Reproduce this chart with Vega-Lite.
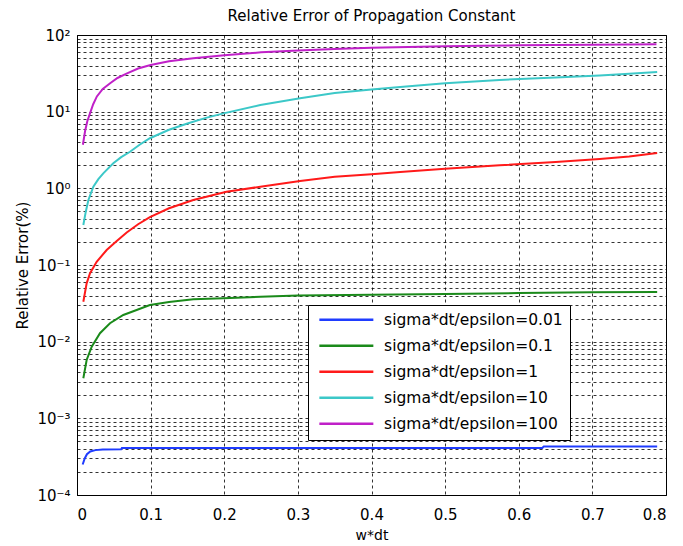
{
  "$schema": "https://vega.github.io/schema/vega-lite/v6.json",
  "autosize": "none",
  "width": 589,
  "height": 460,
  "padding": {"left": 77, "top": 35, "right": 17, "bottom": 51},
  "background": "white",
  "title": {"text": "Relative Error of Propagation Constant", "font": "DejaVu Sans", "fontSize": 15, "fontWeight": "normal", "color": "black", "offset": 4},
  "config": {
    "view": {"stroke": "black", "strokeWidth": 1},
    "font": "DejaVu Sans",
    "axis": {"domainColor": "black", "labelColor": "black", "titleColor": "black", "labelFont": "DejaVu Sans", "titleFont": "DejaVu Sans", "titleFontWeight": "normal", "gridColor": "black", "gridDash": [3, 3], "gridOpacity": 0.8, "gridWidth": 1, "ticks": false}
  },
  "data": {"values": [
    {"w": 0.008, "err": 3.7, "s": "sigma*dt/epsilon=100"},
    {"w": 0.011, "err": 5.6, "s": "sigma*dt/epsilon=100"},
    {"w": 0.014, "err": 7.5, "s": "sigma*dt/epsilon=100"},
    {"w": 0.018, "err": 9.7, "s": "sigma*dt/epsilon=100"},
    {"w": 0.022, "err": 12.5, "s": "sigma*dt/epsilon=100"},
    {"w": 0.027, "err": 15.8, "s": "sigma*dt/epsilon=100"},
    {"w": 0.035, "err": 19.8, "s": "sigma*dt/epsilon=100"},
    {"w": 0.045, "err": 23.5, "s": "sigma*dt/epsilon=100"},
    {"w": 0.055, "err": 27.5, "s": "sigma*dt/epsilon=100"},
    {"w": 0.068, "err": 31.6, "s": "sigma*dt/epsilon=100"},
    {"w": 0.083, "err": 36.5, "s": "sigma*dt/epsilon=100"},
    {"w": 0.1, "err": 40.6, "s": "sigma*dt/epsilon=100"},
    {"w": 0.125, "err": 45.5, "s": "sigma*dt/epsilon=100"},
    {"w": 0.158, "err": 49.7, "s": "sigma*dt/epsilon=100"},
    {"w": 0.2, "err": 54.5, "s": "sigma*dt/epsilon=100"},
    {"w": 0.25, "err": 59.4, "s": "sigma*dt/epsilon=100"},
    {"w": 0.3, "err": 63, "s": "sigma*dt/epsilon=100"},
    {"w": 0.35, "err": 65.8, "s": "sigma*dt/epsilon=100"},
    {"w": 0.4, "err": 68, "s": "sigma*dt/epsilon=100"},
    {"w": 0.45, "err": 69.8, "s": "sigma*dt/epsilon=100"},
    {"w": 0.5, "err": 71.2, "s": "sigma*dt/epsilon=100"},
    {"w": 0.55, "err": 72.4, "s": "sigma*dt/epsilon=100"},
    {"w": 0.6, "err": 73.3, "s": "sigma*dt/epsilon=100"},
    {"w": 0.65, "err": 74.2, "s": "sigma*dt/epsilon=100"},
    {"w": 0.7, "err": 74.8, "s": "sigma*dt/epsilon=100"},
    {"w": 0.75, "err": 75.3, "s": "sigma*dt/epsilon=100"},
    {"w": 0.787, "err": 75.6, "s": "sigma*dt/epsilon=100"},

    {"w": 0.0086, "err": 0.333, "s": "sigma*dt/epsilon=10"},
    {"w": 0.012, "err": 0.5, "s": "sigma*dt/epsilon=10"},
    {"w": 0.0154, "err": 0.7, "s": "sigma*dt/epsilon=10"},
    {"w": 0.0222, "err": 1.05, "s": "sigma*dt/epsilon=10"},
    {"w": 0.029, "err": 1.32, "s": "sigma*dt/epsilon=10"},
    {"w": 0.0357, "err": 1.57, "s": "sigma*dt/epsilon=10"},
    {"w": 0.0493, "err": 2.12, "s": "sigma*dt/epsilon=10"},
    {"w": 0.06, "err": 2.55, "s": "sigma*dt/epsilon=10"},
    {"w": 0.072, "err": 3.0, "s": "sigma*dt/epsilon=10"},
    {"w": 0.085, "err": 3.7, "s": "sigma*dt/epsilon=10"},
    {"w": 0.099, "err": 4.5, "s": "sigma*dt/epsilon=10"},
    {"w": 0.125, "err": 5.8, "s": "sigma*dt/epsilon=10"},
    {"w": 0.15, "err": 7.0, "s": "sigma*dt/epsilon=10"},
    {"w": 0.175, "err": 8.3, "s": "sigma*dt/epsilon=10"},
    {"w": 0.199, "err": 9.5, "s": "sigma*dt/epsilon=10"},
    {"w": 0.249, "err": 12.2, "s": "sigma*dt/epsilon=10"},
    {"w": 0.303, "err": 15, "s": "sigma*dt/epsilon=10"},
    {"w": 0.35, "err": 17.5, "s": "sigma*dt/epsilon=10"},
    {"w": 0.4, "err": 19.5, "s": "sigma*dt/epsilon=10"},
    {"w": 0.439, "err": 21, "s": "sigma*dt/epsilon=10"},
    {"w": 0.5, "err": 23.5, "s": "sigma*dt/epsilon=10"},
    {"w": 0.574, "err": 25.9, "s": "sigma*dt/epsilon=10"},
    {"w": 0.65, "err": 28, "s": "sigma*dt/epsilon=10"},
    {"w": 0.71, "err": 29.6, "s": "sigma*dt/epsilon=10"},
    {"w": 0.75, "err": 31.2, "s": "sigma*dt/epsilon=10"},
    {"w": 0.788, "err": 32.9, "s": "sigma*dt/epsilon=10"},

    {"w": 0.0086, "err": 0.0332, "s": "sigma*dt/epsilon=1"},
    {"w": 0.0131, "err": 0.0577, "s": "sigma*dt/epsilon=1"},
    {"w": 0.0177, "err": 0.078, "s": "sigma*dt/epsilon=1"},
    {"w": 0.0267, "err": 0.11, "s": "sigma*dt/epsilon=1"},
    {"w": 0.0403, "err": 0.157, "s": "sigma*dt/epsilon=1"},
    {"w": 0.054, "err": 0.205, "s": "sigma*dt/epsilon=1"},
    {"w": 0.0675, "err": 0.265, "s": "sigma*dt/epsilon=1"},
    {"w": 0.083, "err": 0.34, "s": "sigma*dt/epsilon=1"},
    {"w": 0.099, "err": 0.42, "s": "sigma*dt/epsilon=1"},
    {"w": 0.125, "err": 0.55, "s": "sigma*dt/epsilon=1"},
    {"w": 0.158, "err": 0.705, "s": "sigma*dt/epsilon=1"},
    {"w": 0.203, "err": 0.9, "s": "sigma*dt/epsilon=1"},
    {"w": 0.249, "err": 1.05, "s": "sigma*dt/epsilon=1"},
    {"w": 0.303, "err": 1.25, "s": "sigma*dt/epsilon=1"},
    {"w": 0.35, "err": 1.42, "s": "sigma*dt/epsilon=1"},
    {"w": 0.4, "err": 1.53, "s": "sigma*dt/epsilon=1"},
    {"w": 0.439, "err": 1.63, "s": "sigma*dt/epsilon=1"},
    {"w": 0.5, "err": 1.8, "s": "sigma*dt/epsilon=1"},
    {"w": 0.574, "err": 2.0, "s": "sigma*dt/epsilon=1"},
    {"w": 0.65, "err": 2.2, "s": "sigma*dt/epsilon=1"},
    {"w": 0.71, "err": 2.41, "s": "sigma*dt/epsilon=1"},
    {"w": 0.75, "err": 2.6, "s": "sigma*dt/epsilon=1"},
    {"w": 0.788, "err": 2.89, "s": "sigma*dt/epsilon=1"},

    {"w": 0.0086, "err": 0.00333, "s": "sigma*dt/epsilon=0.1"},
    {"w": 0.0131, "err": 0.00577, "s": "sigma*dt/epsilon=0.1"},
    {"w": 0.02, "err": 0.0086, "s": "sigma*dt/epsilon=0.1"},
    {"w": 0.0312, "err": 0.0129, "s": "sigma*dt/epsilon=0.1"},
    {"w": 0.0448, "err": 0.0174, "s": "sigma*dt/epsilon=0.1"},
    {"w": 0.0629, "err": 0.0223, "s": "sigma*dt/epsilon=0.1"},
    {"w": 0.081, "err": 0.0259, "s": "sigma*dt/epsilon=0.1"},
    {"w": 0.099, "err": 0.03, "s": "sigma*dt/epsilon=0.1"},
    {"w": 0.125, "err": 0.033, "s": "sigma*dt/epsilon=0.1"},
    {"w": 0.158, "err": 0.0357, "s": "sigma*dt/epsilon=0.1"},
    {"w": 0.199, "err": 0.0368, "s": "sigma*dt/epsilon=0.1"},
    {"w": 0.249, "err": 0.0386, "s": "sigma*dt/epsilon=0.1"},
    {"w": 0.3, "err": 0.04, "s": "sigma*dt/epsilon=0.1"},
    {"w": 0.4, "err": 0.041, "s": "sigma*dt/epsilon=0.1"},
    {"w": 0.5, "err": 0.042, "s": "sigma*dt/epsilon=0.1"},
    {"w": 0.6, "err": 0.043, "s": "sigma*dt/epsilon=0.1"},
    {"w": 0.7, "err": 0.044, "s": "sigma*dt/epsilon=0.1"},
    {"w": 0.788, "err": 0.0445, "s": "sigma*dt/epsilon=0.1"},

    {"w": 0.0077, "err": 0.00025, "s": "sigma*dt/epsilon=0.01"},
    {"w": 0.0105, "err": 0.0003, "s": "sigma*dt/epsilon=0.01"},
    {"w": 0.0135, "err": 0.00034, "s": "sigma*dt/epsilon=0.01"},
    {"w": 0.018, "err": 0.00037, "s": "sigma*dt/epsilon=0.01"},
    {"w": 0.025, "err": 0.000385, "s": "sigma*dt/epsilon=0.01"},
    {"w": 0.035, "err": 0.000392, "s": "sigma*dt/epsilon=0.01"},
    {"w": 0.06, "err": 0.000395, "s": "sigma*dt/epsilon=0.01"},
    {"w": 0.061, "err": 0.00041, "s": "sigma*dt/epsilon=0.01"},
    {"w": 0.632, "err": 0.00041, "s": "sigma*dt/epsilon=0.01"},
    {"w": 0.634, "err": 0.00043, "s": "sigma*dt/epsilon=0.01"},
    {"w": 0.788, "err": 0.00043, "s": "sigma*dt/epsilon=0.01"}
  ]},
  "mark": {"type": "line", "strokeWidth": 2, "clip": true},
  "encoding": {
    "x": {"field": "w", "type": "quantitative",
      "scale": {"domain": [0, 0.8], "nice": false, "zero": false},
      "axis": {"title": "w*dt", "values": [0, 0.1, 0.2, 0.3, 0.4, 0.5, 0.6, 0.7, 0.8],
        "labelExpr": "datum.value == 0 ? '0' : format(datum.value, '.1f')",
        "labelFontSize": 15, "labelPadding": 12, "titleFontSize": 14, "titlePadding": 6, "grid": true}},
    "y": {"field": "err", "type": "quantitative",
      "scale": {"type": "log", "domain": [0.0001, 100], "nice": false},
      "axis": {"title": "Relative Error(%)",
        "values": [0.0001, 0.0002, 0.0003, 0.0004, 0.0005, 0.0006, 0.0007, 0.0008, 0.0009,
                   0.001, 0.002, 0.003, 0.004, 0.005, 0.006, 0.007, 0.008, 0.009,
                   0.01, 0.02, 0.03, 0.04, 0.05, 0.06, 0.07, 0.08, 0.09,
                   0.1, 0.2, 0.3, 0.4, 0.5, 0.6, 0.7, 0.8, 0.9,
                   1, 2, 3, 4, 5, 6, 7, 8, 9,
                   10, 20, 30, 40, 50, 60, 70, 80, 90, 100],
        "labelExpr": "datum.value == 0.0001 ? '10⁻⁴' : datum.value == 0.001 ? '10⁻³' : datum.value == 0.01 ? '10⁻²' : datum.value == 0.1 ? '10⁻¹' : datum.value == 1 ? '10⁰' : datum.value == 10 ? '10¹' : datum.value == 100 ? '10²' : ''",
        "labelFontSize": 15, "labelPadding": 7, "labelOverlap": false, "labelFlush": false,
        "titleFontSize": 15, "titlePadding": 6, "grid": true}},
    "color": {"field": "s", "type": "nominal",
      "scale": {"domain": ["sigma*dt/epsilon=0.01", "sigma*dt/epsilon=0.1", "sigma*dt/epsilon=1", "sigma*dt/epsilon=10", "sigma*dt/epsilon=100"],
                "range": ["#1f3cff", "#1a8a1a", "#ff1a1a", "#3cc8c8", "#c020c8"]},
      "legend": {"title": null, "orient": "none", "legendX": 231, "legendY": 270,
        "symbolType": "M-5,0H5", "symbolSize": 116.6, "symbolStrokeWidth": 2.5, "symbolOffset": 23.6,
        "symbolFillColor": "transparent",
        "labelFontSize": 15.5, "labelColor": "black", "labelFont": "DejaVu Sans", "labelLimit": 400, "labelOffset": 30,
        "rowPadding": 9, "padding": 7, "strokeColor": "black", "fillColor": "white", "cornerRadius": 0}}
  }
}
